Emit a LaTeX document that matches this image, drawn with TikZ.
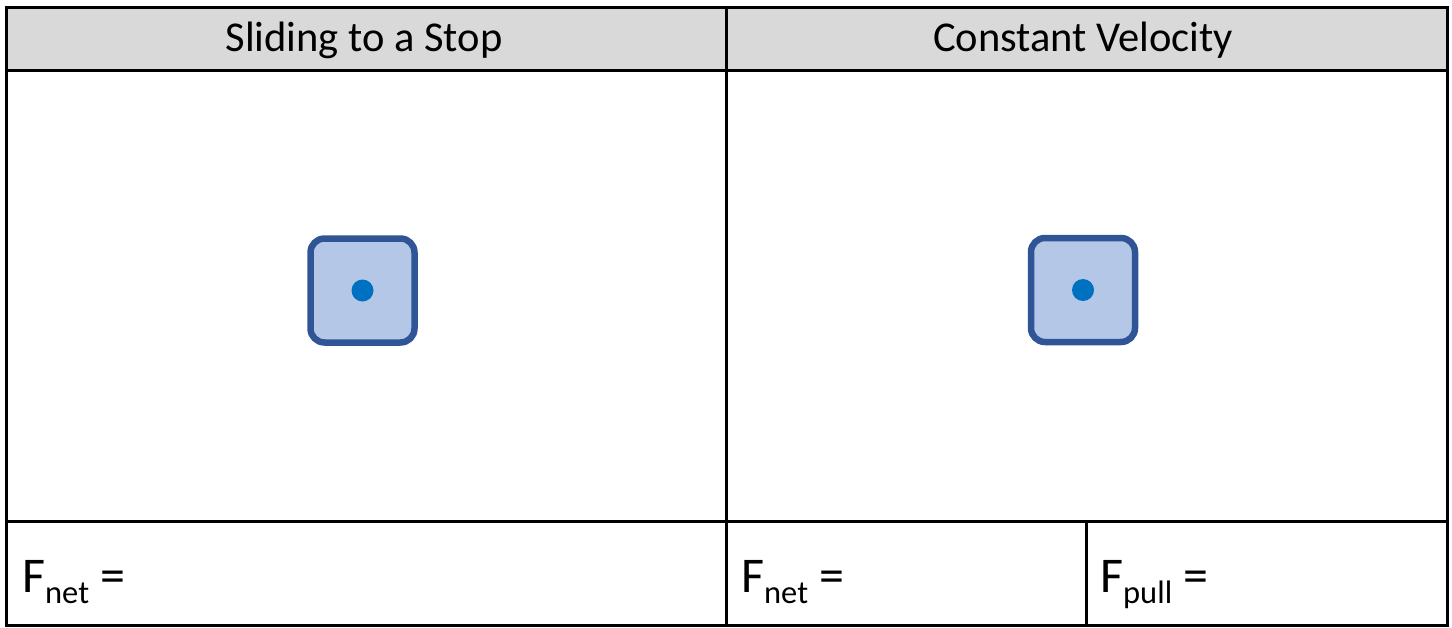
\documentclass[tikz,border=0pt]{standalone}
\usepackage{fontspec}
\setmainfont{Carlito}
\definecolor{headgray}{HTML}{D9D9D9}
\definecolor{blockfill}{HTML}{B4C7E7}
\definecolor{blockedge}{HTML}{2F5597}
\definecolor{dotblue}{HTML}{0070C0}
\tikzset{
  grid/.style={line width=3pt, black},
  headtext/.style={font=\fontsize{42.5}{50}\selectfont, inner sep=0pt, anchor=base},
  eqtext/.style={font=\fontsize{50}{60}\selectfont, inner sep=0pt, anchor=base west},
  block/.style={draw=blockedge, fill=blockfill, line width=6.5pt, rounded corners=14pt,
    minimum width=104pt, minimum height=104pt, inner sep=0pt},
  centre/.style={circle, fill=dotblue, minimum size=22pt, inner sep=0pt}
}
\newcommand{\forcesub}[2]{#1\raisebox{-11pt}{\fontsize{32.5}{40}\selectfont #2}\hspace{11pt}=}
\begin{document}
\begin{tikzpicture}[x=1pt,y=-1pt]
  \useasboundingbox (0,0) rectangle (1452,627);
  % header band
  \fill[headgray] (6,7) rectangle (1447,70);
  % table rules
  \draw[grid] (4.5,7) -- (1448.5,7);
  \draw[grid] (6,70) -- (1447,70);
  \draw[grid] (6,521) -- (1447,521);
  \draw[grid] (4.5,625.5) -- (1448.5,625.5);
  \draw[grid] (6,7) -- (6,627);
  \draw[grid] (1447,7) -- (1447,627);
  \draw[grid] (726,7) -- (726,627);
  \draw[grid] (1086,521) -- (1086,627);
  % column titles
  \node[headtext] (h1) at (364,51) {Sliding to a Stop};
  \node[headtext] (h2) at (1083,51) {Constant Velocity};
  % blocks with centre points
  \node[block] (b1) at (362.5,290.5) {};
  \node[centre] (d1) at (b1.center) {};
  \node[block] (b2) at (1083,290) {};
  \node[centre] (d2) at (b2.center) {};
  % force equations
  \node[eqtext] (f1) at (22,592) {\forcesub{F}{net}};
  \node[eqtext] (f2) at (741,592) {\forcesub{F}{net}};
  \node[eqtext] (f3) at (1100,592) {\forcesub{F}{pull}};
\end{tikzpicture}
\end{document}
